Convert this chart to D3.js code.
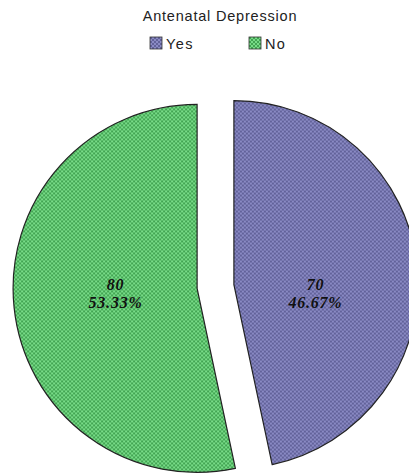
<!DOCTYPE html>
<html><head><meta charset="utf-8">
<script src="https://cdn.jsdelivr.net/npm/d3@7"></script>
<style>body{margin:0;background:#fff}svg{display:block}</style>
</head><body><div id="chart"></div>
<script>
const title = "Antenatal Depression";
const categories = ["Yes", "No"];
const counts = [70, 80];
const percents = ["46.67%", "53.33%"];
const lightColors = ["#8a8ac4", "#78dc88"];
const darkColors = ["#62629a", "#43a453"];

const W = 409, H = 475;
const sans = "'Liberation Sans', Arial, sans-serif";
const svg = d3.select("#chart").append("svg").attr("width", W).attr("height", H);
const defs = svg.append("defs");
categories.forEach((c, i) => {
  const p = defs.append("pattern").attr("id", "pat" + i).attr("patternUnits", "userSpaceOnUse")
    .attr("width", 4).attr("height", 4);
  p.append("rect").attr("width", 4).attr("height", 4).attr("fill", lightColors[i]);
  p.append("rect").attr("x", 0).attr("y", 0).attr("width", 2).attr("height", 2).attr("fill", darkColors[i]);
  p.append("rect").attr("x", 2).attr("y", 2).attr("width", 2).attr("height", 2).attr("fill", darkColors[i]);
});

svg.append("text").attr("x", 220).attr("y", 21).attr("text-anchor", "middle")
  .attr("font-family", sans).attr("font-size", 14.5)
  .attr("letter-spacing", 0.8).attr("fill", "#222").text(title);

const legendX = [150, 249];
categories.forEach((c, i) => {
  const g = svg.append("g").attr("transform", `translate(${legendX[i]},37)`);
  g.append("rect").attr("width", 12).attr("height", 12).attr("fill", `url(#pat${i})`)
    .attr("stroke", "#333").attr("stroke-width", 0.8);
  g.append("text").attr("x", 16).attr("y", 11.5).attr("font-family", sans)
    .attr("font-size", 14.5).attr("letter-spacing", 1.4).attr("fill", "#222").text(c);
});

const cx = 215.5, cy = 286.5, r = 184, explode = 18.5, labelR = 82;
const pie = d3.pie().sort(null).value(d => d)(counts);
const arc = d3.arc().innerRadius(0).outerRadius(r);

const g = svg.append("g").attr("transform", `translate(${cx},${cy})`);
pie.forEach((d, i) => {
  const mid = (d.startAngle + d.endAngle) / 2;
  const ox = Math.sin(mid) * explode, oy = -Math.cos(mid) * explode;
  g.append("path").attr("transform", `translate(${ox},${oy})`).attr("d", arc(d)).attr("fill", `url(#pat${i})`)
    .attr("stroke", "#222").attr("stroke-width", 1.2);
});
pie.forEach((d, i) => {
  const mid = (d.startAngle + d.endAngle) / 2;
  const lx = Math.sin(mid) * (labelR + explode);
  [[counts[i], 3], [percents[i], 21.5]].forEach(([txt, y]) => {
    g.append("text").attr("text-anchor", "middle").attr("x", lx).attr("y", y)
      .attr("font-family", "'Liberation Serif', 'Times New Roman', serif")
      .attr("font-weight", "bold").attr("font-style", "italic").attr("font-size", 16)
      .attr("letter-spacing", 0.8).attr("fill", "#111").text(txt);
  });
});
</script></body></html>
